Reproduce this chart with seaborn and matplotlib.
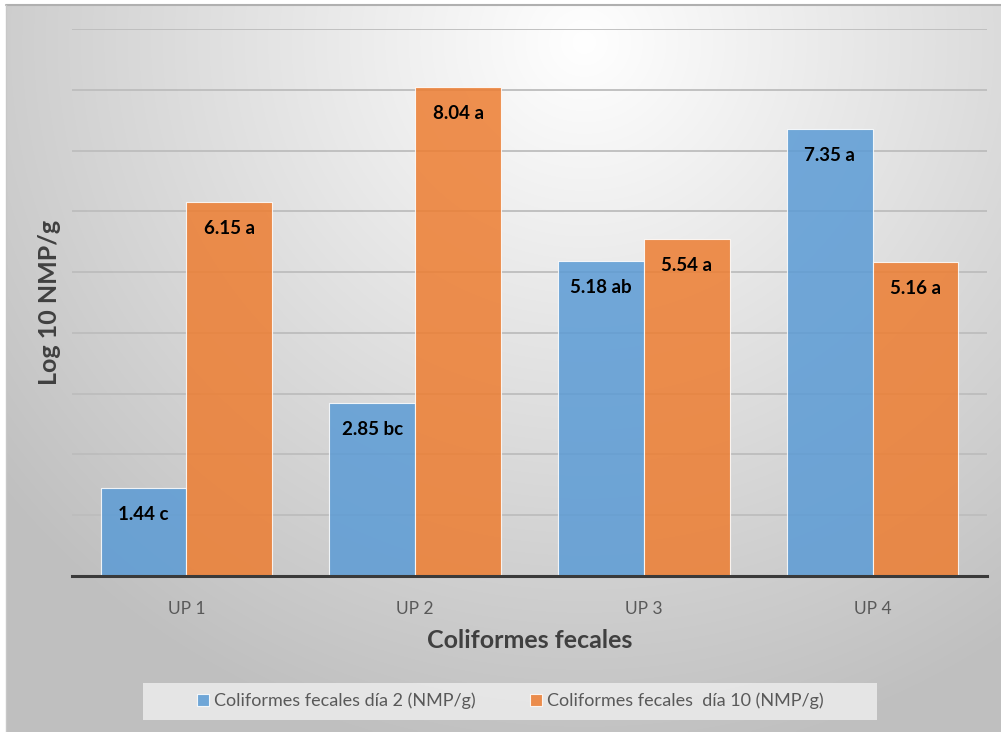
import numpy as np
import pandas as pd
import matplotlib.pyplot as plt
import seaborn as sns
from matplotlib.patches import Rectangle

# data
categories = ['UP 1', 'UP 2', 'UP 3', 'UP 4']
series_names = ['Coliformes fecales día 2 (NMP/g)', 'Coliformes fecales  día 10 (NMP/g)']
dia2 = [1.44, 2.85, 5.18, 7.35]
dia10 = [6.15, 8.04, 5.54, 5.16]
letters2 = ['c', 'bc', 'ab', 'a']
letters10 = ['a', 'a', 'a', 'a']

df = pd.DataFrame({
    'UP': categories * 2,
    'serie': [series_names[0]] * 4 + [series_names[1]] * 4,
    'valor': dia2 + dia10,
})

sns.set_theme(style='white')
plt.rcParams['font.family'] = ['Lato', 'DejaVu Sans']

fig = plt.figure(figsize=(10.01, 7.32), dpi=100)
fig.patch.set_facecolor('white')

# radial gradient background like the office chart area
bg = fig.add_axes([6 / 1001, 0, 995 / 1001, 727 / 732], zorder=-10)
h, w = 300, 400
yy, xx = np.mgrid[0:h, 0:w]
dx = (xx / w - 0.58) * 1.0
dy = (yy / h - 0.05) * 0.75
r = np.clip(np.sqrt(dx ** 2 + dy ** 2) / 0.75, 0, 1)
shade = 1.0 - 0.25 * r
img = np.dstack([shade, shade, shade])
bg.imshow(img, aspect='auto', extent=[0, 1, 0, 1], interpolation='bilinear')
bg.set_axis_off()
fig.add_artist(plt.Line2D([6 / 1001, 1], [727 / 732, 727 / 732], color='#b0b0b0', lw=1.5))
fig.add_artist(plt.Line2D([6 / 1001, 6 / 1001], [0, 727 / 732], color='#c8c8c8', lw=1.0))

# legend box background
fig.add_artist(Rectangle((143 / 1001, 1 - 720 / 732), 734 / 1001, 37 / 732,
                         transform=fig.transFigure, facecolor='#ececec',
                         edgecolor='none', alpha=0.85))

ax = fig.add_axes([72 / 1001, 1 - 576 / 732, 915 / 1001, 547 / 732])
ax.set_facecolor('none')

palette = {series_names[0]: '#5b9bd5', series_names[1]: '#ed7d31'}
sns.barplot(data=df, x='UP', y='valor', hue='serie', palette=palette,
            saturation=1, width=0.75, alpha=0.85, edgecolor='white',
            linewidth=0.8, ax=ax, legend=True)

ax.set_ylim(0, 9)
ax.set_xlim(-0.5, 3.5)
ax.set_yticks(np.arange(0, 10, 1))
ax.yaxis.grid(True, color='#bdbdbd', lw=1.3)
ax.set_axisbelow(True)
ax.tick_params(axis='y', left=False, labelleft=False)
ax.tick_params(axis='x', bottom=False, colors='#595959', labelsize=12.5, pad=12)
for s in ['top', 'right', 'left']:
    ax.spines[s].set_visible(False)
ax.spines['bottom'].set_color('#3a3a3a')
ax.spines['bottom'].set_linewidth(2.2)
ax.spines['bottom'].set_zorder(6)

ax.set_ylabel('Log 10 NMP/g', fontsize=18, fontweight='bold', color='#404040', labelpad=8)
ax.set_xlabel('Coliformes fecales', fontsize=18, fontweight='bold', color='#404040', labelpad=9)

for cont, vals, lets in zip(ax.containers, [dia2, dia10], [letters2, letters10]):
    labs = [f'{v:.2f} {l}' for v, l in zip(vals, lets)]
    ax.bar_label(cont, labels=labs, padding=-25, fontsize=13.5, fontweight='bold',
                 color='black', zorder=7)

handles, labels = ax.get_legend_handles_labels()
ax.get_legend().remove()
leg = fig.legend(handles, labels, loc='center', bbox_to_anchor=(510 / 1001, 1 - 701 / 732),
                 ncol=2, frameon=False, fontsize=13, handlelength=0.7, handleheight=0.7,
                 handletextpad=0.25, columnspacing=3.0)
for t in leg.get_texts():
    t.set_color('#595959')

fig.savefig('out.png', dpi=100)
